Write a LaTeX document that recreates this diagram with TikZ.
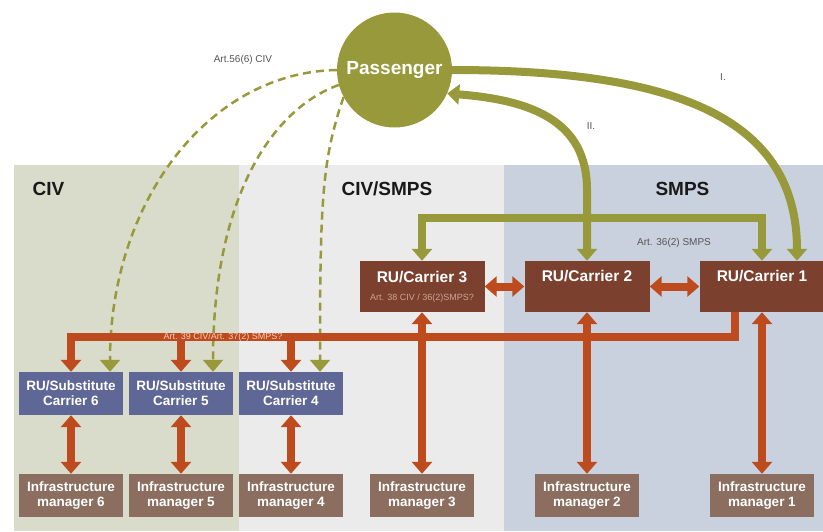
\documentclass[tikz,border=0pt]{standalone}
\usepackage{fontspec}
\setmainfont{Liberation Sans}
\usetikzlibrary{positioning}
\usetikzlibrary{arrows.meta}
\definecolor{color-olive}{RGB}{151,153,59}
\definecolor{color-rust}{RGB}{190,75,30}
\definecolor{color-carrier}{RGB}{123,64,46}
\definecolor{color-substitute}{RGB}{95,103,150}
\definecolor{color-infra}{RGB}{139,110,95}
\definecolor{color-civ}{RGB}{217,220,203}
\definecolor{color-mid}{RGB}{235,235,235}
\definecolor{color-smps}{RGB}{201,209,222}
\definecolor{color-note}{RGB}{85,85,85}
\definecolor{color-barnote}{RGB}{245,205,190}
\definecolor{color-boxnote}{RGB}{205,165,150}
\newcommand{\notesize}{\fontsize{9}{11}\selectfont}

\begin{document}
\begin{tikzpicture}[x=1pt, y=-1pt, >={Triangle[width=20pt,length=12pt]},
carrier/.style={fill=color-carrier, text=white, minimum width=125pt, minimum height=51pt, inner sep=0pt, align=center, font=\fontsize{15.5}{17}\selectfont\bfseries},
subst/.style={fill=color-substitute, text=white, minimum width=104pt, minimum height=43pt, inner sep=0pt, align=center, font=\fontsize{13.5}{15}\selectfont\bfseries},
manager/.style={subst, fill=color-infra},
panel/.style={anchor=west, text=black!90, font=\fontsize{19}{21}\selectfont\bfseries},
note/.style={text=color-note, font=\fontsize{10}{12}\selectfont},
oarrow/.style={draw=color-rust, line width=8pt},
garrow/.style={draw=color-olive, line width=8pt},
gdash/.style={draw=color-olive, line width=2.5pt, dash pattern=on 8pt off 5pt}]

\useasboundingbox (0,0) rectangle (823,531);

%% panels
\fill[color-civ] (14,165) rectangle (239,531);
\fill[color-mid] (239,165) rectangle (504,531);
\fill[color-smps] (504,165) rectangle (823,531);
\node[panel] (civ) at (29,189) {CIV};
\node[panel] (civsmps) at (338,189) {CIV/SMPS};
\node[panel] (smps) at (652,189) {SMPS};

%% passenger
\node[circle, fill=color-olive, text=white, minimum size=115pt, inner sep=0pt, font=\fontsize{19}{21}\selectfont\bfseries] (pass) at (394.5,70) {Passenger};

%% carriers
\node[carrier] (c3) at (422,286.5) {RU/Carrier 3\\[1pt]{\notesize\mdseries\color{color-boxnote}Art. 38 CIV / 36(2)SMPS?}};
\node[carrier] (c2) at (587,286.5) {RU/Carrier 2\\[1pt]{\notesize\strut}};
\node[carrier] (c1) at (762,286.5) {RU/Carrier 1\\[1pt]{\notesize\strut}};

%% substitutes
\node[subst] (s6) at (71,393.5) {RU/Substitute\\Carrier 6};
\node[subst] (s5) at (181,393.5) {RU/Substitute\\Carrier 5};
\node[subst] (s4) at (291,393.5) {RU/Substitute\\Carrier 4};

%% infrastructure managers
\node[manager] (i6) at (71,495.5) {Infrastructure\\manager 6};
\node[manager] (i5) at (181,495.5) {Infrastructure\\manager 5};
\node[manager] (i4) at (291,495.5) {Infrastructure\\manager 4};
\node[manager] (i3) at (422,495.5) {Infrastructure\\manager 3};
\node[manager] (i2) at (587,495.5) {Infrastructure\\manager 2};
\node[manager] (i1) at (762,495.5) {Infrastructure\\manager 1};

\coordinate (barstart) at ([xshift=-27pt]c1.south);
\coordinate (barleft) at (71,337);
\coordinate (c1in) at ([xshift=35pt]c1.north);
\coordinate (s6in) at ([xshift=39pt]s6.north);
\coordinate (s5in) at ([xshift=32pt]s5.north);
\coordinate (s4in) at ([xshift=29pt]s4.north);

%% olive dashed connectors (under the rust bar)
\draw[gdash,->] (pass.west) .. controls (210,72) and (110,200) .. (s6in);
\draw[gdash,->] (pass.195) .. controls (270,110) and (213,200) .. (s5in);
\draw[gdash,->] (pass.208) .. controls (322,160) and (320,200) .. (s4in);

%% rust connectors
\draw[oarrow,->] (barstart) |- (barleft) -- (s6);
\draw[oarrow,->] (s5 |- barleft) -- (s5);
\draw[oarrow,->] (s4 |- barleft) -- (s4);
\draw[oarrow,<->] (s6) -- (i6);
\draw[oarrow,<->] (s5) -- (i5);
\draw[oarrow,<->] (s4) -- (i4);
\draw[oarrow,<->] (c3) -- (i3);
\draw[oarrow,<->] (c2) -- (i2);
\draw[oarrow,<->] (c1) -- (i1);
\draw[oarrow,<->] (c3) -- (c2);
\draw[oarrow,<->] (c2) -- (c1);
\node[text=color-barnote, font=\notesize] (art39) at (223,337) {Art. 39 CIV/Art. 37(2) SMPS?};

%% olive connectors
\draw[garrow,->] (pass.east) .. controls (680,70) and (797,120) .. (c1in);
\draw[garrow,<->] (c2.north) -- ++(0,-71) .. controls (587,120) and (530,100) .. (pass.-24);
\draw[garrow,<->] (c3.north) -- ++(0,-43) -| (c1.north);

%% notes
\node[note] (art56) at (243,60) {Art.56(6) CIV};
\node[note] (one) at (723,77) {I.};
\node[note] (two) at (591,126) {II.};
\node[note] (art36) at (674,243) {Art. 36(2) SMPS};

\end{tikzpicture}
\end{document}
